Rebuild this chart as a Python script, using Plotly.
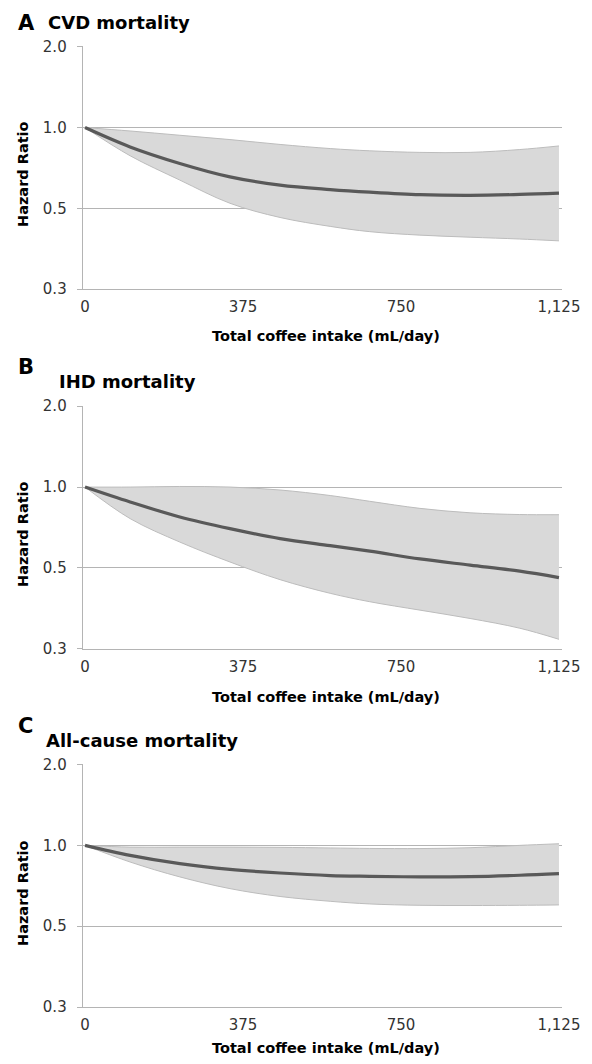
import plotly.graph_objects as go
import math

# ---------------- data ----------------
coffee_ml = [0, 107, 225, 344, 463, 582, 676, 795, 914, 1032, 1125]

cvd_hr    = [1.0, 0.847, 0.735, 0.655, 0.610, 0.587, 0.574, 0.562, 0.559, 0.563, 0.569]
cvd_upper = [1.0, 0.971, 0.936, 0.902, 0.865, 0.835, 0.819, 0.808, 0.808, 0.828, 0.854]
cvd_lower = [1.0, 0.785, 0.637, 0.522, 0.462, 0.428, 0.409, 0.397, 0.390, 0.384, 0.378]

ihd_hr    = [1.0, 0.880, 0.774, 0.700, 0.643, 0.605, 0.577, 0.540, 0.512, 0.486, 0.460]
ihd_upper = [1.0, 1.0, 1.005, 1.0, 0.975, 0.930, 0.885, 0.833, 0.802, 0.790, 0.789]
ihd_lower = [1.0, 0.763, 0.624, 0.526, 0.452, 0.402, 0.374, 0.348, 0.324, 0.298, 0.271]

all_hr    = [1.0, 0.918, 0.855, 0.814, 0.789, 0.772, 0.767, 0.763, 0.765, 0.774, 0.785]
all_upper = [1.0, 0.985, 0.985, 0.985, 0.983, 0.978, 0.974, 0.973, 0.980, 1.0, 1.014]
all_lower = [1.0, 0.867, 0.763, 0.690, 0.645, 0.619, 0.605, 0.598, 0.597, 0.598, 0.600]

panels = [
    ("A", "CVD mortality", cvd_hr, cvd_upper, cvd_lower),
    ("B", "IHD mortality", ihd_hr, ihd_upper, ihd_lower),
    ("C", "All-cause mortality", all_hr, all_upper, all_lower),
]

x_tick_vals = [0, 375, 750, 1125]
x_tick_text = ["0", "375", "750", "1,125"]
y_tick_vals = [0.25, 0.5, 1.0, 2.0]
y_tick_text = ["0.3", "0.5", "1.0", "2.0"]
x_title = "Total coffee intake (mL/day)"
y_title = "Hazard Ratio"

# ---------------- layout constants (viewport pixels) ----------------
PAGE = 8                 # default body margin of the html page
W, H = 592 - 2 * PAGE, 1064 - 2 * PAGE
plot_left, plot_right = 82.7, 561.7
panel_top = [46.3, 405.7, 764.0]      # y of 2.0 gridline
panel_bot = [289.0, 648.7, 1007.0]    # y of 0.25 gridline
letter_y = [23, 366.5, 726]
title_y = [23, 382, 740]
title_x = [46, 57, 44]
xtitle_y = [336.5, 697, 1048]
ytitle_y = [174, 534, 893]

GRID = "#b4b4b4"
BAND = "#d9d9d9"
BAND_EDGE = "#bcbcbc"
LINE = "#595959"
FONT = "DejaVu Sans"
FONT_B = "DejaVu Sans"

def py(px):
    return 1 - (px - PAGE) / H

def pxx(px):
    return (px - PAGE) / W

fig = go.Figure()
annotations = []

for i, (letter, title, hr, up, lo) in enumerate(panels):
    n = "" if i == 0 else str(i + 1)
    xa, ya = "x" + n, "y" + n
    fig.add_trace(go.Scatter(x=coffee_ml, y=lo, mode="lines",
                             line=dict(color=BAND_EDGE, width=1, shape="spline"),
                             xaxis=xa, yaxis=ya, showlegend=False, hoverinfo="skip"))
    fig.add_trace(go.Scatter(x=coffee_ml, y=up, mode="lines", fill="tonexty",
                             fillcolor=BAND,
                             line=dict(color=BAND_EDGE, width=1, shape="spline"),
                             xaxis=xa, yaxis=ya, showlegend=False, hoverinfo="skip"))
    fig.add_trace(go.Scatter(x=coffee_ml, y=hr, mode="lines",
                             line=dict(color=LINE, width=3.2, shape="spline"),
                             xaxis=xa, yaxis=ya, showlegend=False))

    fig.layout["xaxis" + n] = dict(
        domain=[pxx(plot_left), pxx(plot_right)], anchor=ya,
        range=[-5.5, 1131.5], tickvals=x_tick_vals, ticktext=x_tick_text,
        showgrid=False, zeroline=False, showline=True, linecolor=GRID, linewidth=1,
        ticks="", ticklabelstandoff=4, automargin=False,
        tickfont=dict(family=FONT, size=15, color="#333333"),
    )
    fig.layout["yaxis" + n] = dict(
        domain=[py(panel_bot[i]), py(panel_top[i])], anchor=xa, type="log",
        range=[math.log10(0.25), math.log10(2) + 0.002],
        tickvals=y_tick_vals, ticktext=y_tick_text,
        showgrid=True, gridcolor=GRID, gridwidth=1, zeroline=False,
        showline=True, linecolor=GRID, linewidth=1, automargin=False,
        ticks="outside", ticklen=5, tickcolor=GRID, ticklabelstandoff=7,
        tickfont=dict(family=FONT, size=15, color="#333333"),
    )

    annotations.append(dict(text="<b>%s</b>" % letter, x=pxx(16), y=py(letter_y[i]),
                            xref="paper", yref="paper", xanchor="left", yanchor="middle",
                            showarrow=False, font=dict(family=FONT_B, size=21, color="#000")))
    annotations.append(dict(text="<b>%s</b>" % title, x=pxx(title_x[i]), y=py(title_y[i]),
                            xref="paper", yref="paper", xanchor="left", yanchor="middle",
                            showarrow=False, font=dict(family=FONT_B, size=18, color="#000")))
    annotations.append(dict(text="<b>%s</b>" % x_title, x=pxx(326), y=py(xtitle_y[i]),
                            xref="paper", yref="paper", xanchor="center", yanchor="middle",
                            showarrow=False, font=dict(family=FONT_B, size=14.5, color="#000")))
    annotations.append(dict(text="<b>%s</b>" % y_title, x=pxx(23), y=py(ytitle_y[i]),
                            xref="paper", yref="paper", xanchor="center", yanchor="middle",
                            textangle=-90,
                            showarrow=False, font=dict(family=FONT_B, size=14.5, color="#000")))

fig.update_layout(
    width=W, height=H, margin=dict(l=0, r=0, t=0, b=0, pad=0, autoexpand=False),
    paper_bgcolor="white", plot_bgcolor="white",
    annotations=annotations, showlegend=False,
)

fig.write_html("out.html")
